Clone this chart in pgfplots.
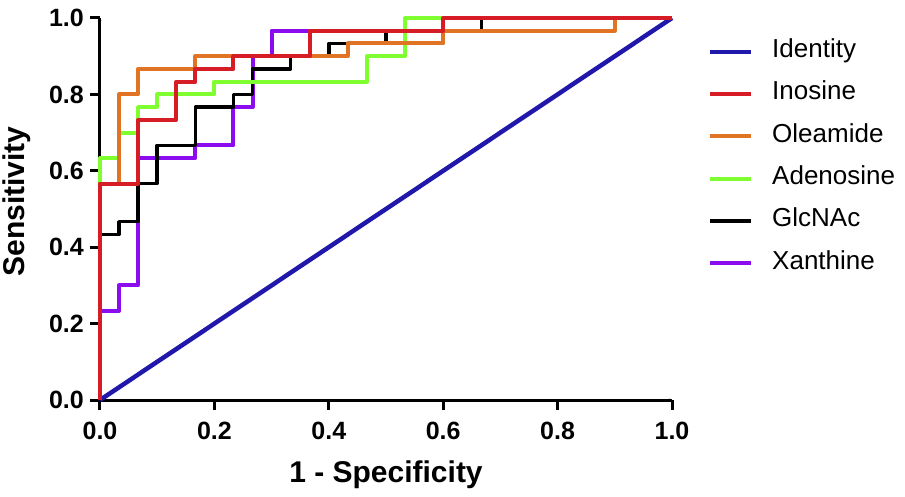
\documentclass[border=0pt]{standalone}
\usepackage{fontspec}
\setmainfont{Liberation Sans}
\usepackage{pgfplots}
\pgfplotsset{compat=1.18}
\definecolor{cident}{RGB}{32,24,170}
\definecolor{cino}{RGB}{214,28,36}
\definecolor{cole}{RGB}{224,116,36}
\definecolor{cade}{RGB}{128,255,48}
\definecolor{cglc}{RGB}{0,0,0}
\definecolor{cxan}{RGB}{140,12,240}
\begin{document}
\begin{tikzpicture}
\begin{axis}[
  scale only axis,
  width=572pt, height=382pt,
  xmin=0, xmax=1, ymin=0, ymax=1,
  clip=false,
  axis x line=bottom, axis y line=left,
  xtick={0,0.2,0.4,0.6,0.8,1.0},
  ytick={0,0.2,0.4,0.6,0.8,1.0},
  tick align=outside,
  major tick length=10pt,
  major tick style={line width=3pt, black},
  /pgf/number format/assume math mode=true,
  /pgf/number format/fixed,
  /pgf/number format/fixed zerofill,
  /pgf/number format/precision=1,
  ticklabel style={font=\fontsize{25}{30}\selectfont\bfseries},
  yticklabel style={inner xsep=6pt},
  xticklabel style={inner ysep=12pt},
  xlabel={1 - Specificity},
  ylabel={Sensitivity},
  label style={font=\fontsize{30}{35}\selectfont\bfseries},
  xlabel style={at={(axis description cs:0.5,-0.217)}, anchor=base},
  ylabel style={at={(axis description cs:-0.145,0.52)}, anchor=center},
  legend cell align=left,
  legend image code/.code={\draw[#1, line width=4pt] (0pt,0pt) -- (41pt,0pt);},
  legend style={at={(1.0577,0.949)}, anchor=north west, draw=none, fill=none,
    font=\fontsize{26}{31}\selectfont, column sep=19pt, row sep=18.3pt,
    nodes={inner sep=0pt, text height=18pt, text depth=6pt}},
]
\addlegendimage{cident}\addlegendentry{Identity}
\addlegendimage{cino}\addlegendentry{Inosine}
\addlegendimage{cole}\addlegendentry{Oleamide}
\addlegendimage{cade}\addlegendentry{Adenosine}
\addlegendimage{cglc}\addlegendentry{GlcNAc}
\addlegendimage{cxan}\addlegendentry{Xanthine}

% thick axis lines
\draw[line width=3pt, black, line join=miter]
  (rel axis cs:0,1) -- (rel axis cs:0,0) -- (rel axis cs:1,0);

% Identity
\addplot[forget plot, cident, line width=4.5pt] coordinates {(0,0) (1,1)};
% Xanthine
\addplot[forget plot, cxan, line width=4pt, line join=round] coordinates {
(0,0) (0,0.2333) (0.0333,0.2333) (0.0333,0.3) (0.0667,0.3) (0.0667,0.6333)
(0.1667,0.6333) (0.1667,0.6667) (0.2333,0.6667) (0.2333,0.7667) (0.2667,0.7667)
(0.2667,0.9) (0.3,0.9) (0.3,0.9667) (0.6,0.9667) (0.6,1) (1,1)};
% GlcNAc
\addplot[forget plot, cglc, line width=3.5pt, line join=round] coordinates {
(0,0) (0,0.4333) (0.0333,0.4333) (0.0333,0.4667) (0.0667,0.4667) (0.0667,0.5667)
(0.1,0.5667) (0.1,0.6667) (0.1667,0.6667) (0.1667,0.7667) (0.2333,0.7667)
(0.2333,0.8) (0.2667,0.8) (0.2667,0.8667) (0.3333,0.8667) (0.3333,0.9)
(0.4,0.9) (0.4,0.9333) (0.5,0.9333) (0.5,0.9667) (0.6667,0.9667) (0.6667,1) (1,1)};
% Adenosine
\addplot[forget plot, cade, line width=4pt, line join=round] coordinates {
(0,0) (0,0.6333) (0.0333,0.6333) (0.0333,0.7) (0.0667,0.7) (0.0667,0.7667)
(0.1,0.7667) (0.1,0.8) (0.2,0.8) (0.2,0.8333) (0.4667,0.8333) (0.4667,0.9)
(0.5333,0.9) (0.5333,1) (1,1)};
% Oleamide
\addplot[forget plot, cole, line width=4pt, line join=round] coordinates {
(0,0) (0,0.5667) (0.0333,0.5667) (0.0333,0.8) (0.0667,0.8) (0.0667,0.8667)
(0.1667,0.8667) (0.1667,0.9) (0.4333,0.9) (0.4333,0.9333) (0.6,0.9333)
(0.6,0.9667) (0.9,0.9667) (0.9,1) (1,1)};
% Inosine
\addplot[forget plot, cino, line width=4pt, line join=round] coordinates {
(0,0) (0,0.5667) (0.0667,0.5667) (0.0667,0.7333) (0.1333,0.7333) (0.1333,0.8333)
(0.1667,0.8333) (0.1667,0.8667) (0.2333,0.8667) (0.2333,0.9) (0.3667,0.9)
(0.3667,0.9667) (0.6,0.9667) (0.6,1) (1,1)};
\end{axis}
\pgfresetboundingbox
\path[use as bounding box] (-100pt,-96pt) rectangle (805pt,400pt);
\end{tikzpicture}
\end{document}
